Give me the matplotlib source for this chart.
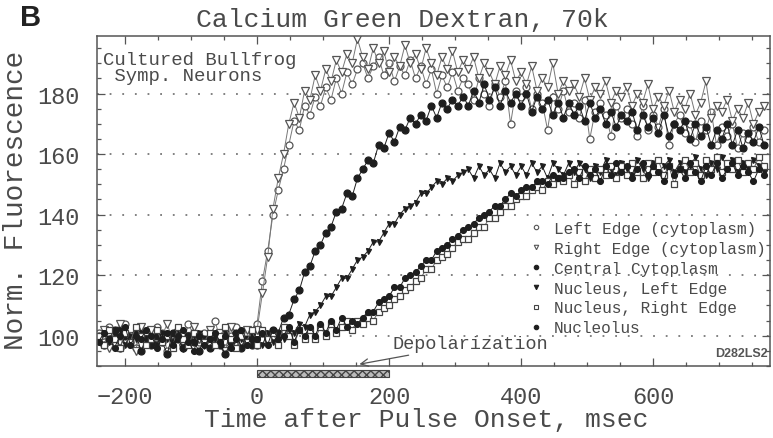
import numpy as np
import matplotlib
matplotlib.use("Agg")
import matplotlib.pyplot as plt
from matplotlib.lines import Line2D
from matplotlib.patches import Rectangle
from matplotlib.ticker import MultipleLocator

# sampling grid (msec after pulse onset), one point every 8 ms
time_ms = np.arange(-240, 769, 8)

# normalized fluorescence
left_edge = [
    101, 98, 103, 97, 100, 104, 99, 96, 102, 100,
    98, 103, 101, 95, 99, 102, 97, 104, 100, 98,
    101, 97, 105, 99, 96, 100, 103, 98, 101, 99,
    104, 118, 128, 140, 148, 155, 163, 171, 168, 176,
    173, 179, 176, 182, 178, 185, 180, 187, 183, 188,
    190, 185, 189, 192, 186, 190, 184, 189, 186, 191,
    185, 189, 183, 188, 180, 186, 182, 187, 181, 185,
    183, 178, 185, 180, 176, 183, 179, 184, 170, 181,
    179, 182, 175, 180, 177, 168, 179, 175, 181, 174,
    177, 172, 178, 165, 174, 177, 173, 166, 176, 172,
    175, 170, 166, 176, 168, 173, 169, 175, 163, 170,
    173, 167, 170, 164, 171, 168, 174, 163, 169, 166,
    170, 162, 167, 165, 169, 164, 168]

right_edge = [
    99, 102, 96, 101, 104, 98, 100, 95, 103, 99,
    102, 97, 100, 104, 98, 101, 96, 100, 103, 99,
    97, 102, 99, 101, 95, 103, 100, 98, 102, 100,
    102, 114, 126, 142, 152, 160, 170, 177, 172, 181,
    178, 186, 181, 188, 184, 191, 187, 193, 190, 198,
    192, 188, 195, 190, 194, 187, 192, 189, 196, 190,
    193, 188, 195, 190, 186, 192, 188, 194, 187, 191,
    188, 192, 185, 190, 187, 183, 189, 186, 191, 184,
    187, 183, 189, 181, 185, 182, 190, 180, 184, 181,
    183, 179, 185, 178, 182, 180, 184, 177, 181, 179,
    182, 176, 180, 177, 183, 175, 179, 176, 181, 174,
    178, 175, 180, 173, 177, 184, 172, 176, 174, 178,
    171, 175, 172, 177, 170, 174, 176]

central_cyto = [
    100, 97, 99, 102, 96, 100, 98, 101, 95, 99,
    97, 100, 98, 94, 101, 99, 96, 100, 98, 95,
    99, 96, 100, 97, 94, 98, 101, 96, 99, 97,
    97, 101, 99, 102, 101, 106, 107, 112, 115, 121,
    123, 128, 130, 134, 136, 141, 142, 147, 146, 152,
    155, 158, 157, 163, 162, 167, 164, 169, 168, 172,
    170, 173, 171, 176, 172, 177, 175, 178, 176, 179,
    176, 181, 177, 183, 178, 182, 176, 181, 177, 180,
    176, 180, 174, 179, 175, 178, 173, 177, 172, 177,
    173, 176, 171, 177, 172, 175, 170, 174, 169, 173,
    171, 174, 168, 173, 169, 172, 167, 173, 166, 170,
    168, 171, 165, 170, 166, 169, 163, 168, 165, 170,
    163, 168, 162, 167, 164, 169, 163]

nucleus_left = [
    99, 101, 98, 100, 102, 97, 100, 99, 101, 98,
    100, 97, 101, 99, 98, 102, 99, 97, 100, 101,
    98, 100, 99, 97, 101, 98, 100, 99, 97, 100,
    99, 97, 101, 98, 100, 99, 102, 101, 104, 103,
    107, 108, 110, 113, 113, 116, 119, 119, 122, 125,
    126, 128, 131, 131, 134, 137, 137, 140, 142, 143,
    144, 147, 147, 149, 151, 150, 152, 151, 153, 154,
    155, 152, 156, 153, 155, 152, 157, 154, 156, 153,
    156, 153, 157, 154, 156, 152, 157, 155, 153, 157,
    154, 157, 155, 152, 156, 154, 158, 155, 153, 157,
    155, 153, 158, 155, 152, 157, 154, 156, 158, 154,
    157, 154, 156, 159, 155, 153, 157, 155, 159, 156,
    158, 154, 157, 155, 158, 156, 154]

nucleus_right = [
    100, 97, 102, 99, 96, 101, 98, 103, 100, 97,
    99, 102, 98, 100, 96, 103, 99, 97, 101, 100,
    98, 101, 97, 100, 103, 99, 96, 100, 98, 102,
    97, 102, 99, 101, 97, 103, 100, 97, 102, 99,
    102, 99, 103, 100, 104, 101, 103, 105, 102, 105,
    104, 106, 105, 108, 109, 110, 112, 113, 115, 116,
    118, 119, 122, 122, 125, 126, 127, 129, 131, 132,
    132, 134, 136, 136, 139, 139, 141, 143, 143, 145,
    146, 146, 148, 149, 148, 151, 150, 152, 151, 153,
    150, 154, 151, 155, 152, 155, 153, 156, 152, 156,
    153, 157, 154, 152, 157, 154, 158, 153, 156, 150,
    155, 158, 154, 157, 153, 158, 155, 159, 154, 157,
    155, 158, 154, 157, 155, 159, 156]

nucleolus = [
    98, 101, 99, 96, 100, 103, 97, 100, 99, 102,
    100, 96, 99, 101, 97, 100, 102, 98, 95, 100,
    97, 99, 101, 98, 100, 96, 99, 102, 97, 99,
    99, 101, 97, 102, 99, 100, 103, 98, 102, 100,
    103, 100, 104, 101, 105, 102, 106, 103, 105, 104,
    106, 108, 108, 111, 112, 113, 116, 116, 119, 120,
    121, 123, 125, 125, 128, 129, 130, 132, 133, 135,
    136, 137, 139, 140, 141, 143, 143, 145, 147, 146,
    148, 149, 149, 151, 151, 150, 153, 152, 152, 154,
    155, 152, 156, 153, 155, 151, 156, 153, 157, 154,
    156, 152, 155, 157, 153, 156, 154, 151, 156, 153,
    155, 152, 157, 154, 151, 156, 153, 157, 152, 155,
    157, 153, 156, 154, 151, 155, 153]

labels = ["Left Edge (cytoplasm)", "Right Edge (cytoplasm)", "Central Cytoplasm",
          "Nucleus, Left Edge", "Nucleus, Right Edge", "Nucleolus"]

stim_start, stim_end = 0, 200   # depolarization pulse, msec

MONO = "Liberation Mono"
TXT = "#4a4a4a"
INK = "#1e1e1e"

fig = plt.figure(figsize=(7.73, 4.39), dpi=100)
ax = fig.add_axes([0.1251, 0.164, 0.871, 0.7517])

# (series, marker, size, face colour, edge colour, line colour)
styles = [
    (left_edge,     "o", 5.0, "white", "#555555", "#777777"),
    (right_edge,    "v", 5.5, "white", "#555555", "#777777"),
    (central_cyto,  "o", 5.0, INK,     INK,       INK),
    (nucleus_left,  "v", 3.6, INK,     INK,       INK),
    (nucleus_right, "s", 3.8, "white", "#444444", "#666666"),
    (nucleolus,     "o", 4.2, INK,     INK,       INK),
]

handles = []
for (vals, mk, ms, fc, ec, lc), lab in zip(styles, labels):
    ax.plot(time_ms, vals, color=lc, lw=0.7, marker=mk, ms=ms,
            mfc=fc, mec=ec, mew=0.9)
    handles.append(Line2D([], [], ls="none", marker=mk, ms=3.2,
                          mfc=fc, mec=ec, mew=0.8))

ax.set_xlim(-243, 777)
ax.set_ylim(90, 199)

ax.xaxis.set_major_locator(MultipleLocator(200))
ax.xaxis.set_minor_locator(MultipleLocator(50))
ax.yaxis.set_major_locator(MultipleLocator(20))
ax.yaxis.set_minor_locator(MultipleLocator(5))
ax.tick_params(which="both", direction="in", top=True, right=True,
               color="#555555", width=0.9)
ax.tick_params(which="major", length=6)
ax.tick_params(which="minor", length=3)
ax.tick_params(axis="y", labelsize=17, labelcolor=TXT, pad=12)
ax.tick_params(axis="x", labelsize=17, labelcolor=TXT, pad=14)
for lab in ax.get_xticklabels() + ax.get_yticklabels():
    lab.set_fontfamily(MONO)
for sp in ax.spines.values():
    sp.set_color("#555555")
    sp.set_linewidth(1.1)

ax.yaxis.grid(True, linestyle=(0, (1, 6)), color="#777777", lw=1.3)
ax.set_axisbelow(True)

# depolarization bar under the axis
bar = Rectangle((stim_start, 86.4), stim_end - stim_start, 2.3,
                facecolor="#bbbbbb", edgecolor="#444444", hatch="xxxx",
                lw=0.8, clip_on=False, transform=ax.transData)
ax.add_patch(bar)
ax.annotate("Depolarization", xy=(155, 90.6), xytext=(205, 97.3),
            fontsize=13.3, family=MONO, color=TXT, va="center", ha="left",
            arrowprops=dict(arrowstyle="->", color="#555555", lw=0.9,
                            shrinkA=0, shrinkB=0))

ax.text(0.0095, 0.955, "Cultured Bullfrog\n Symp. Neurons", transform=ax.transAxes,
        fontsize=13.7, family=MONO, color=TXT, va="top", ha="left", linespacing=0.95)
ax.text(0.996, 0.02, "D282LS2", transform=ax.transAxes, fontsize=9,
        family="Liberation Sans", weight="bold", color="#555555", ha="right", va="bottom")

ax.legend(handles, labels, loc="upper left", bbox_to_anchor=(0.6406, 0.439),
          frameon=False, prop={"family": MONO, "size": 11.6}, labelcolor=TXT,
          handlelength=1.0, handletextpad=0.6, borderpad=0, borderaxespad=0,
          labelspacing=0.3)

fig.text(402 / 773, 1 - 20 / 439, "Calcium Green Dextran, 70k", fontsize=19,
         family=MONO, color=TXT, ha="center", va="center")
fig.text(426 / 773, 1 - 420 / 439, "Time after Pulse Onset, msec", fontsize=19,
         family=MONO, color=TXT, ha="center", va="center")
fig.text(16 / 773, 1 - 200 / 439, "Norm. Fluorescence", fontsize=20, rotation=90,
         family=MONO, color=TXT, ha="center", va="center")
fig.text(20 / 773, 1 - 18 / 439, "B", fontsize=21, weight="bold",
         family="Liberation Sans", color="#222222", ha="left", va="center")

fig.savefig("out.png", dpi=100, facecolor="white")
